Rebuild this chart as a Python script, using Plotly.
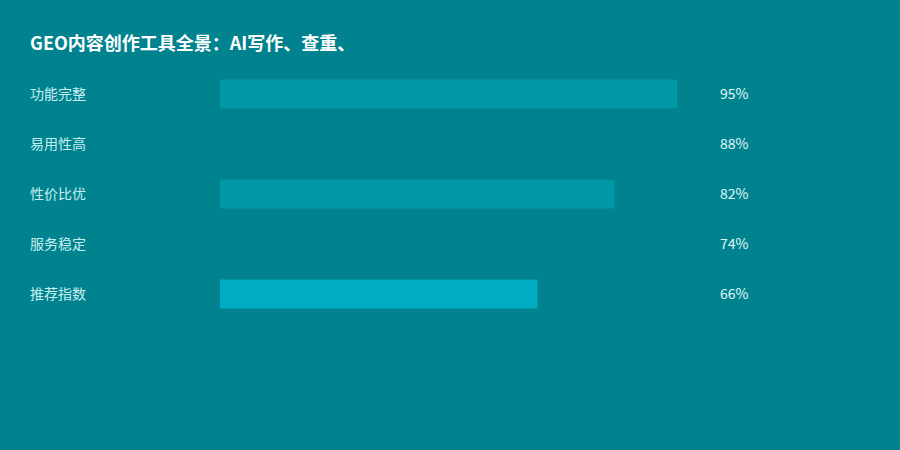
import plotly.graph_objects as go

# Data
categories = ['功能完整', '易用性高', '性价比优', '服务稳定', '推荐指数']
values = [95, 88, 82, 74, 66]
bar_colors = ['#0097A7', '#00838F', '#0097A7', '#00838F', '#00ACC1']
title_text = 'GEO内容创作工具全景：AI写作、查重、'

bg = '#00838F'
font_family = 'Noto Sans CJK SC, Noto Sans, sans-serif'

plot_left, plot_w = 220, 481

fig = go.Figure(go.Bar(
    x=values,
    y=categories,
    orientation='h',
    marker=dict(color=bar_colors, line=dict(width=0)),
    width=0.58,
    hoverinfo='skip',
))

# category labels on the left, value labels on the right
for cat, val in zip(categories, values):
    fig.add_annotation(
        x=(30 - plot_left) / plot_w, xref='paper', y=cat, yref='y',
        text=cat, showarrow=False, xanchor='left', xshift=-2, yshift=1,
        font=dict(size=14, color='#C8EEF2', family=font_family),
    )
    fig.add_annotation(
        x=(720 - plot_left) / plot_w, xref='paper', y=cat, yref='y',
        text=f'{val}%', showarrow=False, xanchor='left', xshift=-2, yshift=1,
        font=dict(size=14, color='#E0F7FA', family=font_family),
    )

fig.update_layout(
    width=900, height=450,
    paper_bgcolor=bg, plot_bgcolor=bg,
    margin=dict(l=plot_left, r=900 - plot_left - plot_w, t=69, b=131),
    title=dict(
        text=f'<b>{title_text}</b>',
        x=30 / 900, xanchor='left', y=1 - 44 / 450, yanchor='middle',
        font=dict(size=18, color='#FFFFFF', family=font_family),
    ),
    showlegend=False,
    font=dict(family=font_family),
)
fig.update_xaxes(range=[0, 100], visible=False, fixedrange=True)
fig.update_yaxes(
    categoryorder='array', categoryarray=categories,
    range=[4.5, -0.5], visible=False, fixedrange=True,
)

# drop the default page margin so the chart sits flush in the window
fig.write_html(
    'out.html',
    config={'displayModeBar': False},
    post_script="document.body.style.margin='0';document.body.style.background='#00838F';",
)
